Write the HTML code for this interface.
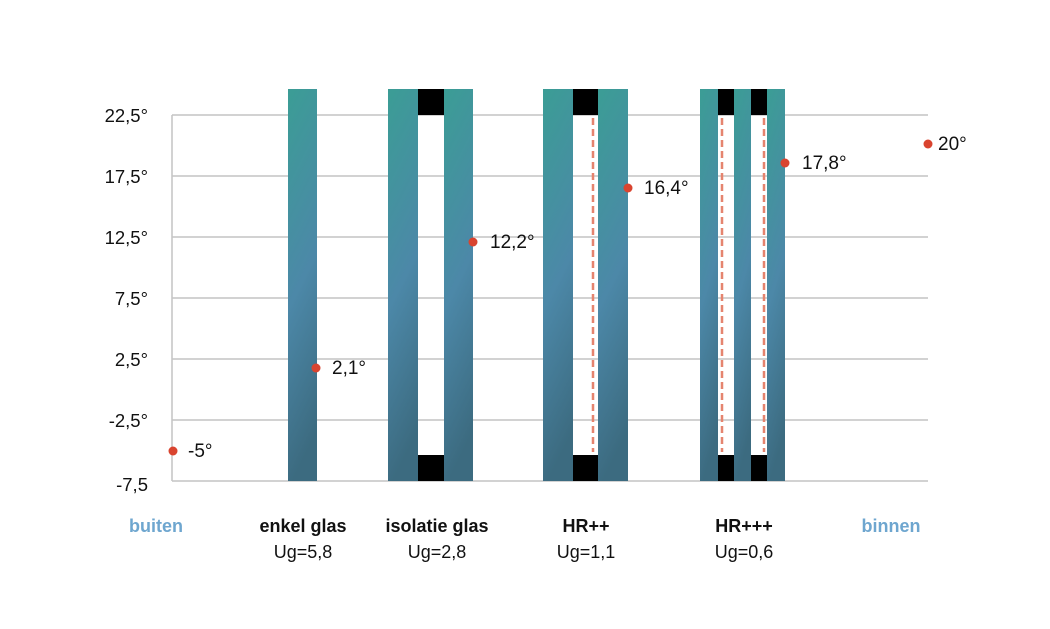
<!DOCTYPE html>
<html><head><style>
body{margin:0;background:#fff;}
</style></head><body>
<svg width="1050" height="629" xmlns="http://www.w3.org/2000/svg" style="display:block;font-family:'Liberation Sans',sans-serif">
<defs>
<linearGradient id="g" x1="0" y1="0" x2="0.15" y2="1">
<stop offset="0" stop-color="#3b9d95"/>
<stop offset="0.55" stop-color="#4c88a8"/>
<stop offset="1" stop-color="#3c6b80"/>
</linearGradient>
</defs>
<g stroke="#c4c4c4" stroke-width="1.5">
<line x1="172" y1="115" x2="928" y2="115"/>
<line x1="172" y1="176" x2="928" y2="176"/>
<line x1="172" y1="237" x2="928" y2="237"/>
<line x1="172" y1="298" x2="928" y2="298"/>
<line x1="172" y1="359" x2="928" y2="359"/>
<line x1="172" y1="420" x2="928" y2="420"/>
<line x1="172" y1="481" x2="928" y2="481"/>
<line x1="172" y1="115" x2="172" y2="481"/>
</g>
<g font-size="18.5" fill="#111" text-anchor="end">
<text x="148" y="122">22,5°</text>
<text x="148" y="183">17,5°</text>
<text x="148" y="244">12,5°</text>
<text x="148" y="305">7,5°</text>
<text x="148" y="366">2,5°</text>
<text x="148" y="427">-2,5°</text>
<text x="148" y="491">-7,5</text>
</g>
<g fill="url(#g)">
<rect x="288" y="89" width="29" height="392"/>
<rect x="388" y="89" width="30" height="392"/>
<rect x="444" y="89" width="29" height="392"/>
<rect x="543" y="89" width="30" height="392"/>
<rect x="598" y="89" width="30" height="392"/>
<rect x="700" y="89" width="18" height="392"/>
<rect x="734" y="89" width="17" height="392"/>
<rect x="767" y="89" width="18" height="392"/>
</g>
<g fill="#000">
<rect x="418" y="89" width="26" height="26"/><rect x="418" y="455" width="26" height="26"/>
<rect x="573" y="89" width="25" height="26"/><rect x="573" y="455" width="25" height="26"/>
<rect x="718" y="89" width="16" height="26"/><rect x="718" y="455" width="16" height="26"/>
<rect x="751" y="89" width="16" height="26"/><rect x="751" y="455" width="16" height="26"/>
</g>
<g stroke="#e5846f" stroke-width="2.5" stroke-dasharray="7,4">
<line x1="593" y1="118" x2="593" y2="452"/>
<line x1="722" y1="118" x2="722" y2="452"/>
<line x1="764" y1="118" x2="764" y2="452"/>
</g>
<g fill="#d9442f">
<circle cx="173" cy="451" r="4.5"/>
<circle cx="316" cy="368" r="4.5"/>
<circle cx="473" cy="242" r="4.5"/>
<circle cx="628" cy="188" r="4.5"/>
<circle cx="785" cy="163" r="4.5"/>
<circle cx="928" cy="144" r="4.5"/>
</g>
<g font-size="19" fill="#111">
<text x="188" y="457">-5°</text>
<text x="332" y="374">2,1°</text>
<text x="490" y="248">12,2°</text>
<text x="644" y="194">16,4°</text>
<text x="802" y="169">17,8°</text>
<text x="938" y="150">20°</text>
</g>
<g font-size="18" text-anchor="middle">
<text x="156" y="532" fill="#6ea6cf" font-weight="bold">buiten</text>
<text x="891" y="532" fill="#6ea6cf" font-weight="bold">binnen</text>
<text x="303" y="532" font-weight="bold" fill="#111">enkel glas</text>
<text x="303" y="558" fill="#111">Ug=5,8</text>
<text x="437" y="532" font-weight="bold" fill="#111">isolatie glas</text>
<text x="437" y="558" fill="#111">Ug=2,8</text>
<text x="586" y="532" font-weight="bold" fill="#111">HR++</text>
<text x="586" y="558" fill="#111">Ug=1,1</text>
<text x="744" y="532" font-weight="bold" fill="#111">HR+++</text>
<text x="744" y="558" fill="#111">Ug=0,6</text>
</g>
</svg>
</body></html>
